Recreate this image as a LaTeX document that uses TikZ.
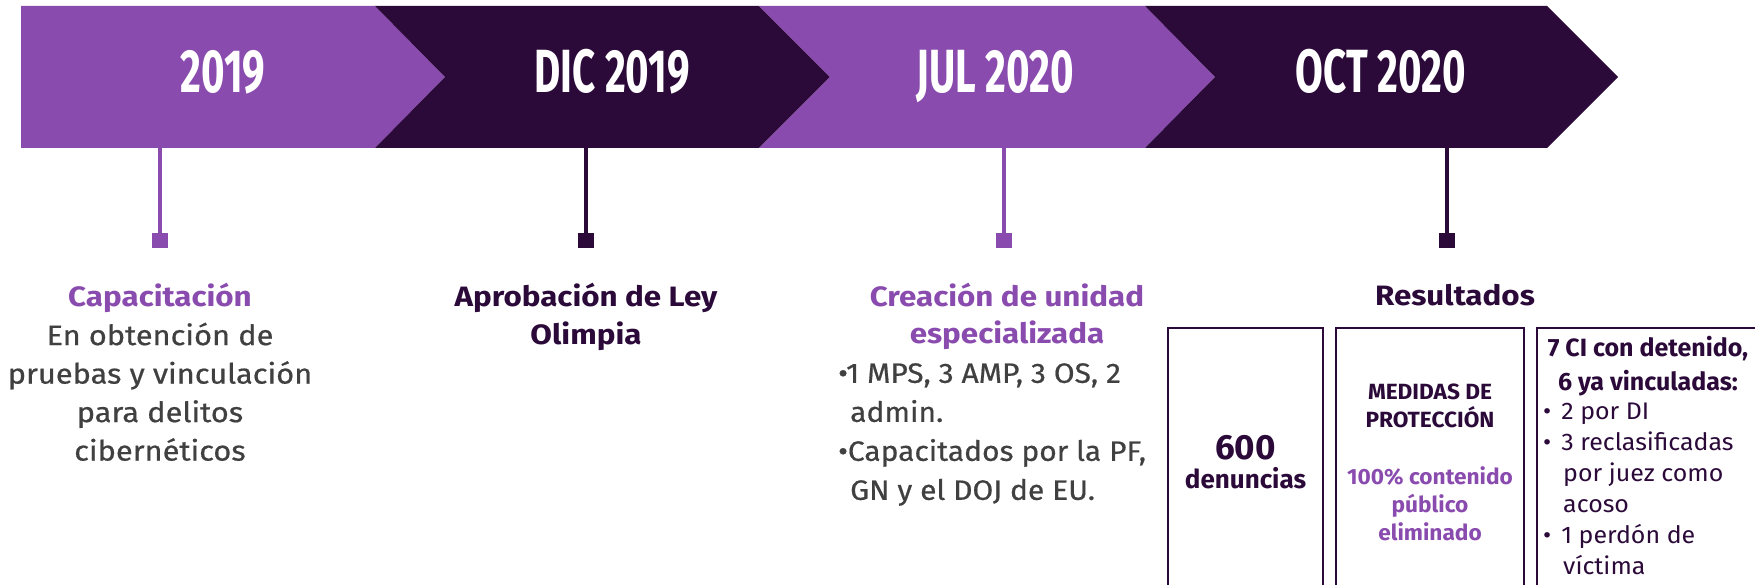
\documentclass[tikz,border=0pt]{standalone}
\usepackage{fontspec}
\setmainfont{Fira Sans}
\newfontfamily\hdfont{Fira Sans}[FakeStretch=1.12]
\newfontfamily\bodyA{Fira Sans}[FakeStretch=1.1,FakeBold=0.6]
\newfontfamily\bodyB{Fira Sans}[FakeStretch=1.07,FakeBold=0.6]
\newfontfamily\boxfont{Fira Sans}[FakeStretch=1.03]
\newfontfamily\listfont{Fira Sans}[FakeStretch=1.04]
\definecolor{lila}{HTML}{8A4BAF}
\definecolor{dark}{HTML}{2B0A3A}
\definecolor{body}{HTML}{404040}
\begin{document}
\begin{tikzpicture}[x=1pt,y=-1pt,
  year/.style={text=white,font=\fontsize{61}{61}\selectfont\bfseries,inner sep=0pt,anchor=base},
  stem/.style={line width=3.5pt},
  marker/.style={minimum width=16pt,minimum height=15pt,inner sep=0pt,anchor=north},
  event/.style={anchor=north,align=center,inner sep=0pt},
  resbox/.style={draw=dark,line width=2pt,inner sep=0pt,align=center,anchor=north west,minimum height=268pt}]
\useasboundingbox (0,0) rectangle (1755,585);
\fill[white] (0,0) rectangle (1755,585);
% chevrons
\fill[lila] (21,6) -- (375,6) -- (445,77) -- (375,148) -- (21,148) -- cycle;
\fill[dark] (375,6) -- (759,6) -- (830,77) -- (759,148) -- (375,148) -- (445,77) -- cycle;
\fill[lila] (759,6) -- (1145,6) -- (1215,77) -- (1145,148) -- (759,148) -- (830,77) -- cycle;
\fill[dark] (1145,6) -- (1547,6) -- (1618,77) -- (1547,148) -- (1145,148) -- (1215,77) -- cycle;
% year labels
\node[year] (y1) at (223,93) {\scalebox{0.66}[1]{2019}};
\node[year] (y2) at (612,93) {\scalebox{0.66}[1]{DIC 2019}};
\node[year] (y3) at (995,93) {\scalebox{0.66}[1]{JUL 2020}};
\node[year] (y4) at (1381,93) {\scalebox{0.66}[1]{OCT 2020}};
% stems and markers
\coordinate (b1) at (160,148);
\coordinate (b2) at (586,148);
\coordinate (b3) at (1004,148);
\coordinate (b4) at (1447,148);
\node[marker,fill=lila] (m1) at (160,233) {};
\node[marker,fill=dark] (m2) at (586,233) {};
\node[marker,fill=lila] (m3) at (1004,233) {};
\node[marker,fill=dark] (m4) at (1447,233) {};
\draw[stem,lila] (b1) -- (m1.north);
\draw[stem,dark] (b2) -- (m2.north);
\draw[stem,lila] (b3) -- (m3.north);
\draw[stem,dark] (b4) -- (m4.north);
% event texts
\node[event,text=body,font=\fontsize{28}{38.5}\selectfont] (e1) at (160,283)
  {{\color{lila}\hdfont\bfseries Capacitación}\\\bodyA En obtención de\\\bodyA pruebas y vinculación\\\bodyA para delitos\\\bodyA cibernéticos};
\node[event,text=dark,font=\fontsize{28}{38}\selectfont\hdfont\bfseries] (e2) at (586,283)
  {Aprobación de Ley\\Olimpia};
\node[event,text=lila,font=\fontsize{28}{37}\selectfont\hdfont\bfseries] (e3) at (1007,283)
  {Creación de unidad\\especializada};
\node[anchor=north west,align=left,inner sep=0pt,text=body,font=\fontsize{28}{39}\selectfont\bodyB] (e3b) at (838,363)
  {•1 MPS, 3 AMP, 3 OS, 2\\\hspace*{12pt}admin.\\•Capacitados por la PF,\\\hspace*{12pt}GN y el DOJ de EU.};
\node[event,text=dark,font=\fontsize{28}{38}\selectfont\hdfont\bfseries] (e4) at (1455,284) {Resultados};
% result boxes
\node[resbox,minimum width=155pt,text=dark] (r1) at (1167,327)
  {{\fontsize{35}{35}\selectfont\bfseries 600}\\[6pt]{\fontsize{26}{28}\selectfont\bfseries denuncias}};
\node[resbox,minimum width=188pt,font=\fontsize{22}{28}\selectfont\boxfont\bfseries] (r2) at (1335,327)
  {{\color{dark}MEDIDAS DE}\\{\color{dark}PROTECCIÓN}\\[29pt]{\color{lila}100\% contenido}\\{\color{lila}público}\\{\color{lila}eliminado}};
\node[resbox,minimum width=230pt] (r3) at (1536,327) {};
\node[anchor=north,align=center,inner sep=0pt,text=dark,font=\fontsize{25}{34}\selectfont\bfseries] (r3h) at (1648,336)
  {7 CI con detenido,\\6 ya vinculadas:};
\node[anchor=north west,align=left,inner sep=0pt,text=dark,font=\fontsize{24}{31}\selectfont\listfont] (r3l) at (1543,403)
  {•\hspace{10pt}2 por DI\\•\hspace{10pt}3 reclasificadas\\\hspace*{20pt}por juez como\\\hspace*{20pt}acoso\\•\hspace{10pt}1 perdón de\\\hspace*{20pt}víctima};
\end{tikzpicture}
\end{document}
